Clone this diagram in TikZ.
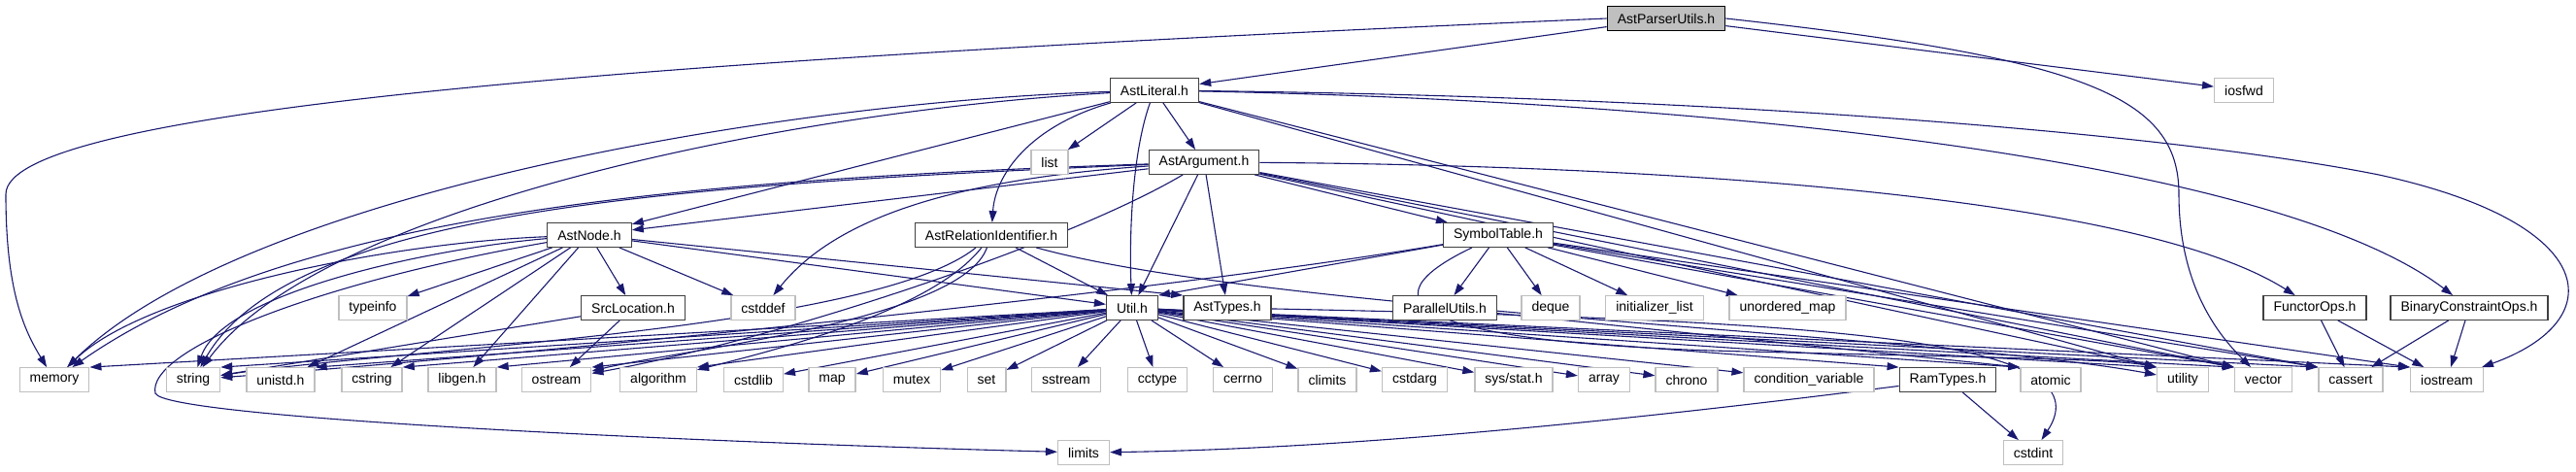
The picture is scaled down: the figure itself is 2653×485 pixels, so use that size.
\documentclass[tikz,border=0pt]{standalone}
\usepackage{fontspec}
\setmainfont{Liberation Sans}
\usetikzlibrary{arrows.meta}
\definecolor{incblue}{HTML}{191970}
\definecolor{sysgray}{HTML}{BFBFBF}
\definecolor{rootgray}{HTML}{BFBFBF}
\definecolor{hdrline}{HTML}{404040}
\pgfdeclarelayer{edges}
\pgfsetlayers{edges,main}

\begin{document}
\begin{tikzpicture}[
  x=1pt, y=-1pt, >={Triangle[length=12pt,width=8pt]},
  font=\fontsize{14}{16}\selectfont,
  hdr/.style={draw=hdrline, line width=1.3pt, fill=white, minimum height=24.5pt,
    inner xsep=10.5pt, inner ysep=0pt},
  sys/.style={hdr, draw=sysgray},
  root/.style={hdr, draw=black, fill=rootgray},
  inc/.style={->, draw=incblue, line width=1.1pt},
]
\useasboundingbox (0,0) rectangle (2653,485);

% project headers
\node[root] (parser)   at (1716,19)  {AstParserUtils.h};
\node[hdr]  (literal)  at (1189,93)  {AstLiteral.h};
\node[hdr]  (argument) at (1240,167) {AstArgument.h};
\node[hdr]  (astnode)  at (607,242)  {AstNode.h};
\node[hdr]  (relid)    at (1021,242) {AstRelationIdentifier.h};
\node[hdr]  (symtab)   at (1543,242) {SymbolTable.h};
\node[hdr]  (srcloc)   at (652,317)  {SrcLocation.h};
\node[hdr]  (util)     at (1166,317) {Util.h};
\node[hdr]  (asttypes) at (1264,317) {AstTypes.h};
\node[hdr]  (parutils) at (1488,317) {ParallelUtils.h};
\node[hdr]  (functor)  at (2384,317) {FunctorOps.h};
\node[hdr]  (binop)    at (2543,317) {BinaryConstraintOps.h};
\node[hdr]  (ramtypes) at (2006,391) {RamTypes.h};

% system headers
\node[sys] (iosfwd)    at (2311,93)  {iosfwd};
\node[sys] (list)      at (1081,167) {list};
\node[sys] (typeinfo)  at (384,317)  {typeinfo};
\node[sys] (cstddef)   at (786,317)  {cstddef};
\node[sys] (deque)     at (1597,317) {deque};
\node[sys] (initlist)  at (1704,317) {initializer\_list};
\node[sys] (unordmap)  at (1841,317) {unordered\_map};
\node[sys] (memory)    at (56,391)   {memory};
\node[sys] (string)    at (199,391)  {string};
\node[sys] (unistd)    at (289,391)  {unistd.h};
\node[sys] (cstring)   at (383,391)  {cstring};
\node[sys] (libgen)    at (476,391)  {libgen.h};
\node[sys] (ostream)   at (573,391)  {ostream};
\node[sys] (algorithm) at (678,391)  {algorithm};
\node[sys] (cstdlib)   at (776,391)  {cstdlib};
\node[sys] (map)       at (857,391)  {map};
\node[sys] (mutex)     at (939,391)  {mutex};
\node[sys] (set)       at (1016,391) {set};
\node[sys] (sstream)   at (1098,391) {sstream};
\node[sys] (cctype)    at (1192,391) {cctype};
\node[sys] (cerrno)    at (1280,391) {cerrno};
\node[sys] (climits)   at (1367,391) {climits};
\node[sys] (cstdarg)   at (1457,391) {cstdarg};
\node[sys] (sysstat)   at (1559,391) {sys/stat.h};
\node[sys] (array)     at (1652,391) {array};
\node[sys] (chrono)    at (1737,391) {chrono};
\node[sys] (condvar)   at (1863,391) {condition\_variable};
\node[sys] (atomic)    at (2112,391) {atomic};
\node[sys] (utility)   at (2248,391) {utility};
\node[sys] (vector)    at (2331,391) {vector};
\node[sys] (cassert)   at (2421,391) {cassert};
\node[sys] (iostream)  at (2520,391) {iostream};
\node[sys] (limits)    at (1116,466) {limits};
\node[sys] (cstdint)   at (2094,466) {cstdint};

\begin{pgfonlayer}{edges}
% AstParserUtils.h
\draw[inc] (parser) -- (literal);
\draw[inc] (parser) -- (iosfwd);
\draw[inc] (parser.west) .. controls (700,60) and (6,110) .. (6,200)
  .. controls (6,300) and (25,340) .. (memory);
\draw[inc] (parser.east) .. controls (2150,60) and (2244,100) .. (2244,200)
  .. controls (2244,300) and (2290,350) .. (vector);

% AstLiteral.h
\draw[inc] (literal) -- (list);
\draw[inc] (literal) -- (argument);
\draw[inc] (literal) -- (astnode);
\draw[inc] (literal) .. controls (1060,130) and (1025,180) .. (relid);
\draw[inc] (literal) .. controls (1165,160) and (1163,250) .. (util);
\draw[inc] (literal) .. controls (800,105) and (250,200) .. (memory);
\draw[inc] (literal) .. controls (800,115) and (330,215) .. (string);
\draw[inc] (literal) .. controls (1800,105) and (2350,170) .. (binop);
\draw[inc] (literal) .. controls (1800,100) and (2250,140) .. (2450,180)
  .. controls (2680,230) and (2690,330) .. (iostream);
\draw[inc] (literal) -- (vector.north west);
\draw[inc] (literal) -- (utility.north west);

% AstArgument.h
\draw[inc] (argument) -- (astnode);
\draw[inc] (argument) -- (asttypes);
\draw[inc] (argument) -- (util);
\draw[inc] (argument) -- (symtab);
\draw[inc] (argument) .. controls (1700,170) and (2200,200) .. (functor);
\draw[inc] (argument) .. controls (980,185) and (860,225) .. (cstddef);
\draw[inc] (argument) .. controls (1100,250) and (800,350) .. (ostream);
\draw[inc] (argument) .. controls (700,185) and (300,220) .. (memory);
\draw[inc] (argument) .. controls (700,190) and (300,215) .. (string);
\draw[inc] (argument) -- (utility.north west);
\draw[inc] (argument) -- (vector.north west);
\draw[inc] (argument) -- (cassert.north west);

% AstRelationIdentifier.h
\draw[inc] (relid) -- (util);
\draw[inc] (relid) .. controls (900,340) and (400,360) .. (string);
\draw[inc] (relid) .. controls (960,320) and (800,360) .. (algorithm);
\draw[inc] (relid) .. controls (990,330) and (700,360) .. (ostream);
\draw[inc] (relid) .. controls (1300,320) and (2000,345) .. (utility);

% AstNode.h
\draw[inc] (astnode) -- (srcloc);
\draw[inc] (astnode) -- (typeinfo);
\draw[inc] (astnode) -- (cstddef);
\draw[inc] (astnode) -- (libgen);
\draw[inc] (astnode) -- (cstring);
\draw[inc] (astnode) -- (unistd);
\draw[inc] (astnode) -- (util);
\draw[inc] (astnode) -- (asttypes.north west);
\draw[inc] (astnode) .. controls (400,250) and (150,300) .. (memory);
\draw[inc] (astnode) .. controls (450,255) and (230,300) .. (string);
\draw[inc] (astnode) .. controls (330,290) and (150,360) .. (160,405)
  .. controls (170,430) and (700,455) .. (limits);

% SrcLocation.h
\draw[inc] (srcloc) -- (ostream);
\draw[inc] (srcloc) -- (string);

% SymbolTable.h
\draw[inc] (symtab) -- (parutils);
\draw[inc] (symtab) -- (deque);
\draw[inc] (symtab) -- (initlist);
\draw[inc] (symtab) -- (unordmap);
\draw[inc] (symtab) -- (util.north east);
\draw[inc] (symtab) .. controls (1200,300) and (600,360) .. (string);
\draw[inc] (symtab) -- (vector.north west);
\draw[inc] (symtab) -- (cassert.north west);
\draw[inc] (symtab) -- (iostream.north west);
\draw[inc] (symtab) .. controls (1380,320) and (1500,355) .. (1800,362)
  .. controls (2050,368) and (2180,370) .. (utility.north west);

% Util.h
\draw[inc] (util) -- (memory.north east);
\draw[inc] (util) -- (string.north east);
\draw[inc] (util) -- (unistd.north east);
\draw[inc] (util) -- (cstring.north east);
\draw[inc] (util) -- (libgen.north east);
\draw[inc] (util) -- (ostream.north east);
\draw[inc] (util) -- (algorithm.north east);
\draw[inc] (util) -- (cstdlib);
\draw[inc] (util) -- (map);
\draw[inc] (util) -- (mutex);
\draw[inc] (util) -- (set);
\draw[inc] (util) -- (sstream);
\draw[inc] (util) -- (cctype);
\draw[inc] (util) -- (cerrno);
\draw[inc] (util) -- (climits);
\draw[inc] (util) -- (cstdarg);
\draw[inc] (util) -- (sysstat);
\draw[inc] (util) -- (array);
\draw[inc] (util) -- (chrono);
\draw[inc] (util) -- (condvar);
\draw[inc] (util) -- (ramtypes.north west);
\draw[inc] (util) -- (atomic.north west);
\draw[inc] (util) -- (utility.north west);
\draw[inc] (util) -- (vector.north west);
\draw[inc] (util) -- (cassert.north west);
\draw[inc] (util) -- (iostream.north west);

% the rest
\draw[inc] (asttypes) .. controls (1900,330) and (2170,350) .. (cstdint);
\draw[inc] (parutils) -- (atomic.north west);
\draw[inc] (functor) -- (cassert);
\draw[inc] (functor) -- (iostream);
\draw[inc] (binop) -- (cassert);
\draw[inc] (binop) -- (iostream);
\draw[inc] (ramtypes) -- (cstdint);
\draw[inc] (ramtypes) .. controls (1700,430) and (1400,462) .. (limits);
\end{pgfonlayer}
\end{tikzpicture}
\end{document}
